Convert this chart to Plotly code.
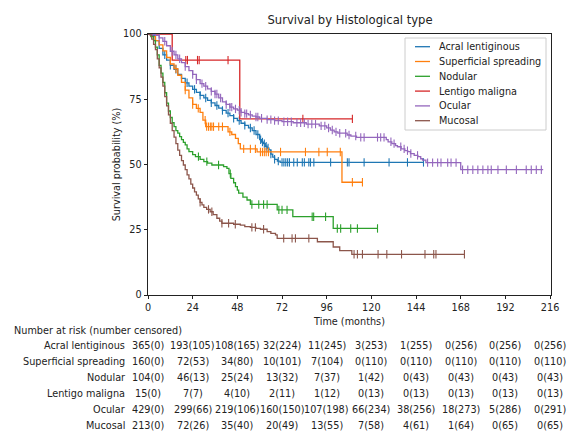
import numpy as np
import plotly.graph_objects as go

# ---------------- data ----------------
groups = ["Acral lentiginous", "Superficial spreading", "Nodular",
          "Lentigo maligna", "Ocular", "Mucosal"]
colors = ["#1f77b4", "#ff7f0e", "#2ca02c", "#d62728", "#9467bd", "#8c564b"]

# Kaplan-Meier step knots: time (months) and survival (%)
acral_t = [0, 2, 4, 6, 8, 10, 12, 14, 16, 18, 20, 22, 24, 26, 28, 30, 32, 34, 36, 38,
           40, 42, 44, 46, 48, 50, 52, 54, 56, 58, 60, 61, 62, 63, 64, 65, 66, 67, 68, 69.5, 71]
acral_s = [100, 99.5, 97.5, 94.5, 92, 90, 88, 86.5, 84.5, 83, 81.3, 80, 78.8, 77.6, 76.5, 75.5,
           74.6, 73.6, 72.6, 71.6, 70.7, 69.7, 68.7, 67.7, 66.8, 65.8, 65, 64, 63, 61.5, 59.5,
           58.6, 58, 57, 56.3, 55.6, 54, 52.8, 52, 51.3, 50.8]
acral_end = 148

super_t = [0, 2, 4, 6, 8, 10, 12, 14, 16, 18, 20, 22, 24, 26, 28, 29.5, 31,
           43, 45, 47, 48.5, 49.6, 58.6, 104.2]
super_s = [100, 99, 97.5, 95.8, 93.5, 91, 88.5, 86.7, 84.2, 81.5, 78.5, 75.5, 73, 71.5, 70,
           67, 64.5, 62.5, 61.5, 60, 58, 56, 54.8, 43.2]
super_end = 115.2

nod_t = [0, 1.5, 3, 4, 5, 6, 7, 8, 9, 10, 11, 12, 13, 14, 15, 16, 17, 18, 19, 20, 21, 22,
         24, 25.5, 28, 30, 32, 34.3, 40.6, 42.4, 43.5, 44.5, 46, 47, 48, 48.7, 51, 53.2, 55,
         69.4, 77.8, 99.5]
nod_s = [100, 99, 97.5, 95, 92, 88, 85, 81.5, 77.5, 73.5, 70.5, 68, 66, 64.5, 63, 62, 60.7,
         59.5, 58.5, 57.5, 56, 54.9, 53.8, 53, 52, 51.1, 50.5, 49.8, 49.2, 48.5, 46.5, 44.7,
         43, 41.5, 40.2, 39, 37.5, 36.4, 34.7, 32.6, 30, 25.5]
nod_end = 123.3

lent_t = [0, 13, 49.3]
lent_s = [100, 90, 67.5]
lent_end = 109.8

ocu_t = [0, 2, 4, 6, 8, 10, 12, 14, 16, 18, 20, 22, 24, 26, 28, 30, 32, 34, 36, 38, 40, 42,
         44, 46, 48, 50, 52, 54, 56, 58, 60, 64, 68, 72, 78, 85, 92, 96, 98, 100, 102, 107,
         109, 112, 128, 129, 131, 133, 134, 136, 138, 139.5, 141, 143, 145, 146.5, 147.5,
         149.3, 168]
ocu_s = [100, 99.8, 99.5, 98.5, 97.2, 95.5, 93.4, 92, 90.5, 89, 87.5, 86, 84.5, 82.5, 81,
         80, 79, 78, 77, 75.5, 74, 73, 72, 71.3, 70.8, 70, 69.5, 69, 68.5, 68.2, 67.7, 67.2,
         66.8, 66.4, 66, 65.5, 64.8, 64, 63.2, 62.5, 62, 61.3, 60.9, 60.4, 59.5, 58.7, 58,
         57.2, 56.8, 56, 55.3, 54.9, 54.2, 53.5, 53, 52.2, 51.7, 50.7, 48]
ocu_end = 212.3

muc_t = [0, 1, 2, 3, 4, 5, 6, 7, 8, 9, 10, 11, 12, 13, 14, 15, 16, 17, 18, 19, 20, 21, 22,
         23, 24, 25, 26, 27, 28, 29, 30, 31.5, 33.4, 35, 37, 38.5, 39.7, 46, 49.6, 52, 55,
         58, 60.4, 64, 66, 68.5, 69.4, 91, 99.5, 103, 109.5]
muc_s = [100, 99.7, 98, 96, 94, 90.5, 87, 83.5, 80, 76, 72.5, 69, 65.8, 63, 60.5, 58, 55.5,
         53.5, 51.5, 49.8, 48, 46, 44.5, 42.5, 41, 39.5, 38.3, 36.8, 35.5, 34.5, 33.6, 32.8,
         31.9, 30.8, 29.4, 28.3, 27.5, 27.1, 26.8, 26.2, 25.9, 25.5, 25.2, 24.3, 23.6, 23,
         21.7, 20.4, 18.4, 17, 15.6]
muc_end = 170

# censoring times (months)
acral_c = [9, 12, 15, 18, 21, 25, 28, 31, 34, 37, 40, 43, 46, 49, 52, 55, 57, 59, 60.5,
           61.5, 62.5, 63.5, 64.5, 66, 68, 70, 72, 73, 74, 75, 76, 78.3, 80.2, 82.9, 84, 86.4,
           87.3, 89.1, 98.1, 107.1, 108, 116.1, 129.5, 139.4, 148]
super_c = [15, 20, 24, 27, 30.7, 31.5, 32.5, 33.5, 34.3, 35.2, 38, 40, 44, 51.4, 55, 57.7,
           60.4, 61.5, 62.5, 63.5, 64.7, 71.2, 84.6, 91.8, 96.3, 103.3, 109.8, 115.2]
nod_c = [27.1, 31.6, 37.9, 44.2, 55.8, 59.5, 62.1, 64, 70.3, 72, 74.7, 88.2, 89, 95.4,
         101.7, 103.5, 108.9, 112.5, 123.3]
lent_c = [20.3, 21.2, 26.6, 27.5, 43, 83.2, 109.8]
ocu_c = [6, 9, 13, 15, 17, 20, 24, 26, 29, 31, 34, 36, 37, 39, 42, 44, 45, 47, 49, 50, 52,
         53, 55, 58, 59, 61, 64, 66, 68, 70, 73, 75, 77, 80, 82, 84, 86, 88, 90, 93, 95, 97,
         99, 101, 103, 106.2, 108, 111.6, 114.3, 116.1, 123.3, 125, 126.8, 130.5, 132.2,
         135.8, 137.6, 139.4, 141.2, 144.8, 150.2, 152.9, 155.6, 157.4, 161, 162.8, 165.5,
         169, 171.8, 174.5, 177.2, 179.9, 182.6, 184.4, 188, 192.5, 197.9, 203.2, 205.9,
         208.6, 211.3]
muc_c = [28, 32.5, 34.3, 39.7, 43.3, 46.9, 55.8, 57.7, 62.1, 72.9, 77.4, 79.2, 86.4,
         110.7, 112.5, 115.2, 123.6, 128.3, 136.2, 148.8, 153.5, 154.7, 170]

curves_t = [acral_t, super_t, nod_t, lent_t, ocu_t, muc_t]
curves_s = [acral_s, super_s, nod_s, lent_s, ocu_s, muc_s]
curves_end = [acral_end, super_end, nod_end, lent_end, ocu_end, muc_end]
censored = [acral_c, super_c, nod_c, lent_c, ocu_c, muc_c]

# number at risk table
risk_times = [0, 24, 48, 72, 96, 120, 144, 168, 192, 216]
at_risk = [
    [365, 193, 108, 32, 11, 3, 1, 0, 0, 0],
    [160, 72, 34, 10, 7, 0, 0, 0, 0, 0],
    [104, 46, 25, 13, 7, 1, 0, 0, 0, 0],
    [15, 7, 4, 2, 1, 0, 0, 0, 0, 0],
    [429, 299, 219, 160, 107, 66, 38, 18, 5, 0],
    [213, 72, 35, 20, 13, 7, 4, 1, 0, 0],
]
n_censored = [
    [0, 105, 165, 224, 245, 253, 255, 256, 256, 256],
    [0, 53, 80, 101, 104, 110, 110, 110, 110, 110],
    [0, 13, 24, 32, 37, 42, 43, 43, 43, 43],
    [0, 7, 10, 11, 12, 13, 13, 13, 13, 13],
    [0, 66, 106, 150, 198, 234, 256, 273, 286, 291],
    [0, 26, 40, 49, 55, 58, 61, 64, 65, 65],
]
y_ticks = [0, 25, 50, 75, 100]

# ---------------- figure ----------------
W, H = 568, 442
# plot area in window pixels
PX0, PX1, PY0, PY1 = 148, 551, 34, 295
L, R, T, B = PX0, W - PX1, PY0, H - PY1
pw, ph = PX1 - PX0, PY1 - PY0
FONT = "DejaVu Sans"
FS = 9.7


def px_x(p):
    return (p - PX0) / pw


def px_y(p):
    return (PY1 - p) / ph


def step_val(ts, ss, t):
    ts = np.asarray(ts)
    idx = np.searchsorted(ts, t, side="right") - 1
    return np.asarray(ss)[idx]


fig = go.Figure()
for name, col, ts, ss, te, cs in zip(groups, colors, curves_t, curves_s, curves_end, censored):
    fig.add_trace(go.Scatter(
        x=list(ts) + [te], y=list(ss) + [ss[-1]], mode="lines", name=name,
        line=dict(color=col, width=1.3, shape="hv"), showlegend=False,
        hoverinfo="skip"))
    fig.add_trace(go.Scatter(
        x=cs, y=[float(step_val(ts, ss, c)) for c in cs], mode="markers",
        name=name + " censored", showlegend=False,
        marker=dict(symbol="line-ns-open", size=6, color=col,
                    line=dict(color=col, width=1.1)),
        hoverinfo="skip"))

annotations = []
shapes = []

# legend (drawn to match the reference spacing)
lx0, lx1, ly0, ly1 = 405, 546, 38, 130
shapes.append(dict(type="rect", xref="paper", yref="paper",
                   x0=px_x(lx0), x1=px_x(lx1), y0=px_y(ly1), y1=px_y(ly0),
                   line=dict(color="#cccccc", width=1), fillcolor="rgba(255,255,255,0.8)",
                   layer="above"))
row0, drow = 46.7, 14.8
for i, (name, col) in enumerate(zip(groups, colors)):
    yy = px_y(row0 + i * drow)
    shapes.append(dict(type="line", xref="paper", yref="paper",
                       x0=px_x(415), x1=px_x(430), y0=yy, y1=yy,
                       line=dict(color=col, width=1.3), layer="above"))
    annotations.append(dict(text=name, xref="paper", yref="paper", x=px_x(436.5), y=yy,
                            xanchor="left", yanchor="middle", showarrow=False,
                            font=dict(family=FONT, size=FS, color="#222")))

# risk table
annotations.append(dict(text="Number at risk (number censored)", xref="paper", yref="paper",
                        x=px_x(12), y=px_y(330), xanchor="left", yanchor="middle",
                        showarrow=False, font=dict(family=FONT, size=FS, color="#222")))
rows_y = [345.5, 361.5, 377.5, 393.5, 409.5, 425.5]
for i, name in enumerate(groups):
    yy = px_y(rows_y[i])
    annotations.append(dict(text=name, xref="paper", yref="paper", x=px_x(127), y=yy,
                            xanchor="right", yanchor="middle", showarrow=False,
                            font=dict(family=FONT, size=FS, color="#222")))
    for t, n, c in zip(risk_times, at_risk[i], n_censored[i]):
        annotations.append(dict(text=f"{n}({c})", xref="x", yref="paper", x=t, y=yy,
                                xanchor="center", yanchor="middle", showarrow=False,
                                font=dict(family=FONT, size=FS, color="#222")))

axis_common = dict(showgrid=False, zeroline=False, showline=True, linecolor="#222",
                   linewidth=0.9, mirror=True, ticks="outside", ticklen=3.5, tickwidth=0.9,
                   tickcolor="#222", tickfont=dict(family=FONT, size=FS, color="#222"))

fig.update_layout(
    width=W, height=H, margin=dict(l=L, r=R, t=T, b=B, autoexpand=False),
    paper_bgcolor="white", plot_bgcolor="white",
    title=dict(text="Survival by Histological type", xref="container",
               x=350 / W, xanchor="center",
               yref="container", y=1 - 20 / H, yanchor="middle",
               font=dict(family=FONT, size=11.6, color="#222")),
    xaxis=dict(range=[0, 216.5], tickvals=risk_times,
               title=dict(text="Time (months)", standoff=6,
                          font=dict(family=FONT, size=FS, color="#222")),
               **axis_common),
    yaxis=dict(range=[0, 100], tickvals=y_ticks,
               title=dict(text="Survival probability (%)", standoff=0,
                          font=dict(family=FONT, size=FS, color="#222")),
               **axis_common),
    annotations=annotations, shapes=shapes, showlegend=False,
)

# remove the default page margin so the 568x442 figure fills the window exactly
fig.write_html("out.html",
               config={"displayModeBar": False},
               post_script="document.body.style.margin='0';"
                           "document.body.style.overflow='hidden';")
